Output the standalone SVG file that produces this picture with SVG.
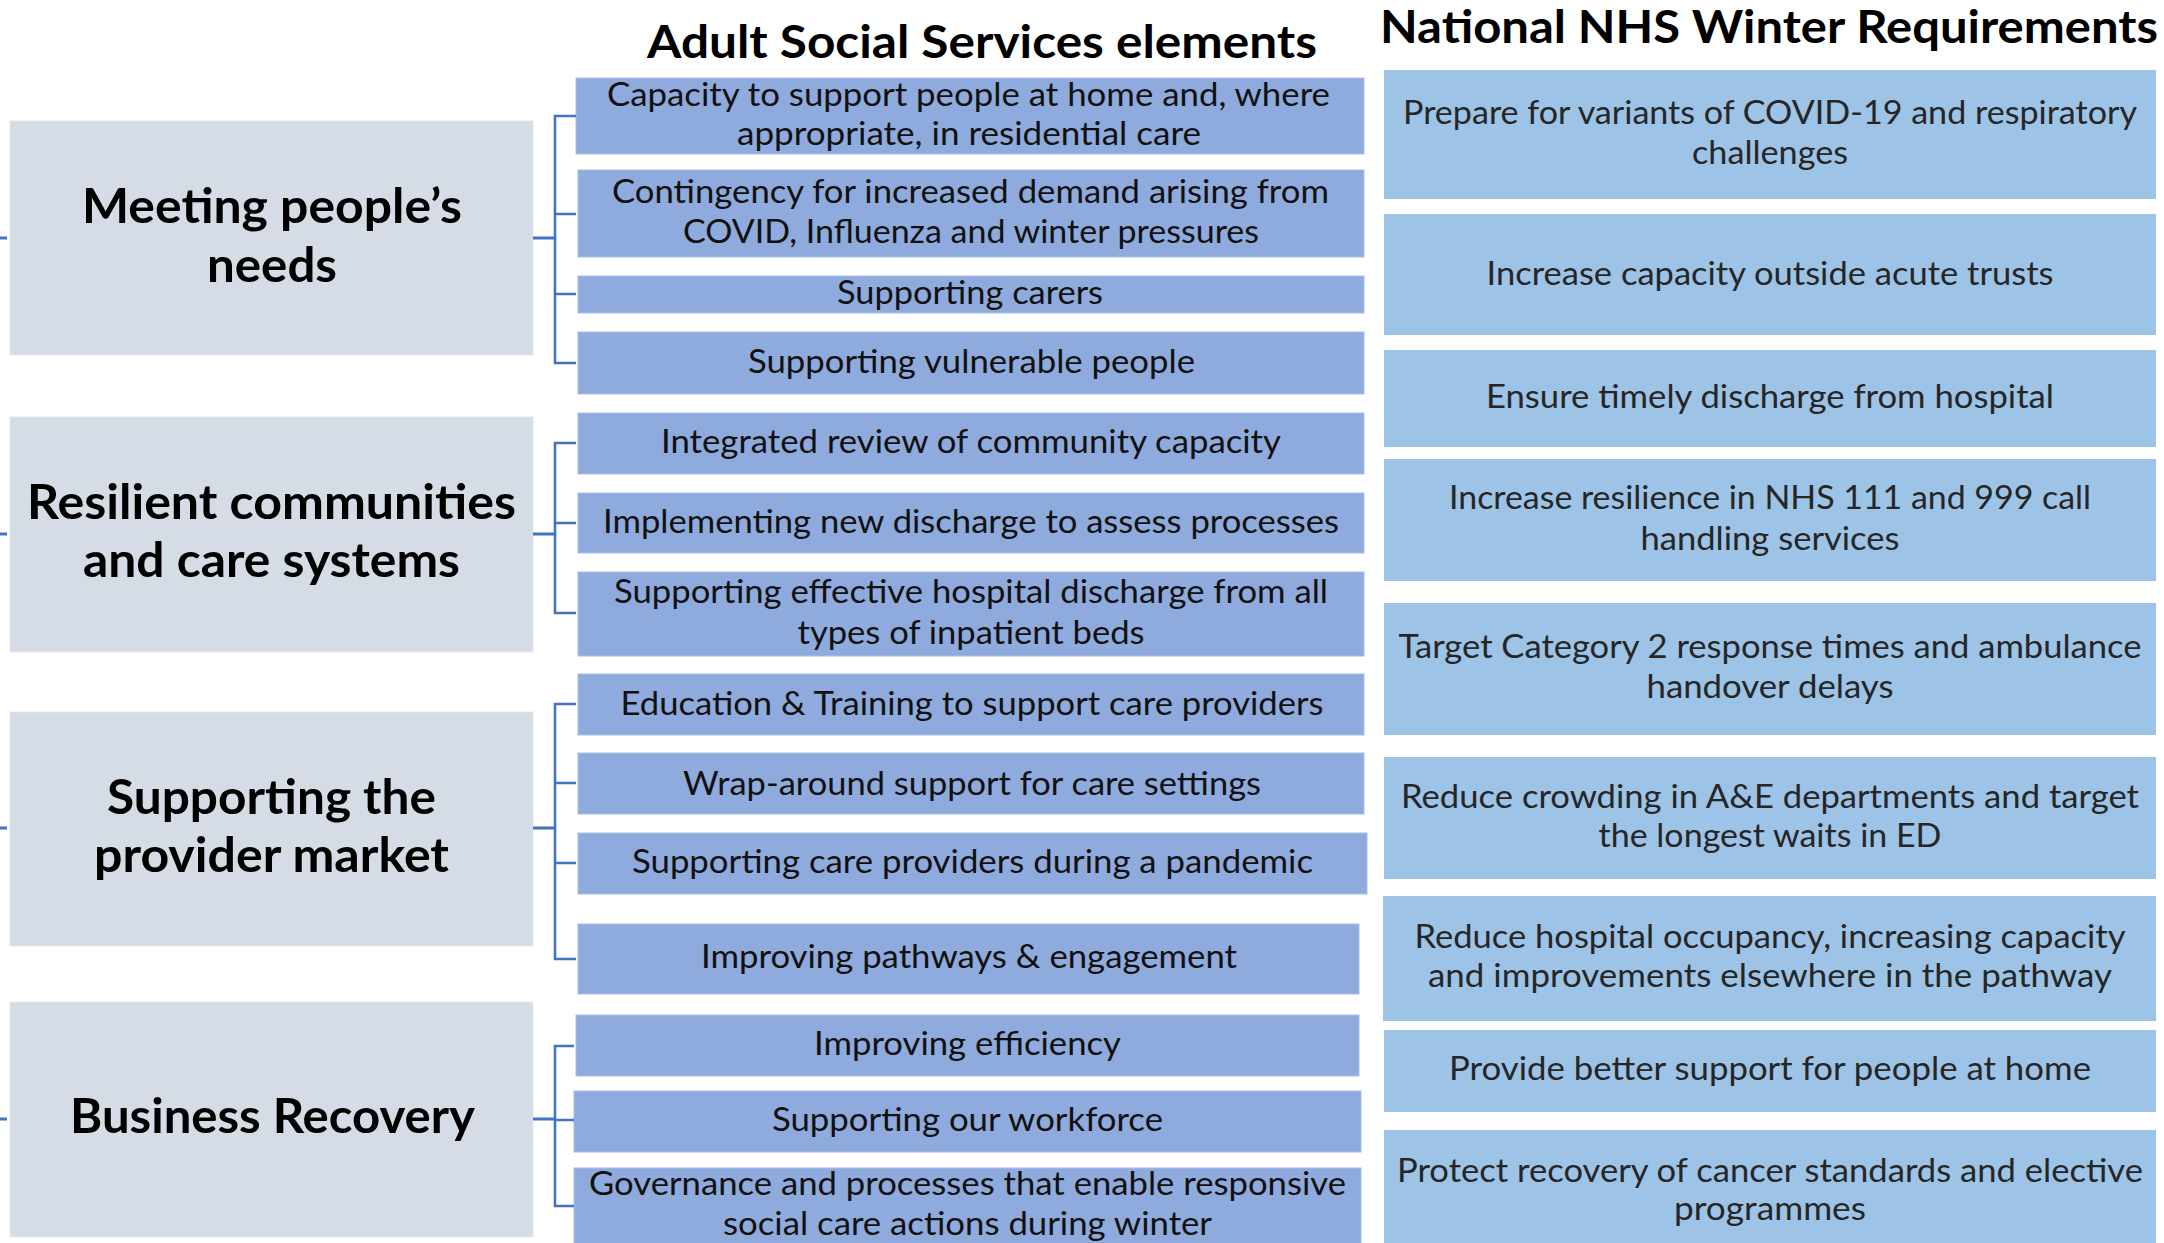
<svg xmlns="http://www.w3.org/2000/svg" width="2164" height="1243" viewBox="0 0 2164 1243">
  <style>
    .theme { fill: #D6DCE5; stroke: #E4E8EF; stroke-width: 1; }
    .elem { fill: #8FAADC; stroke: #A9BEE6; stroke-width: 1; }
    .req { fill: #9DC3E6; }
    .head { font-family: Lato, "Open Sans", sans-serif; font-weight: bold; font-size: 46px; fill: #000; }
    .theme-t { font-family: Lato, "Open Sans", sans-serif; font-weight: bold; font-size: 47px; fill: #000; text-anchor: middle; }
    .elem-t { font-family: Lato, "Open Sans", sans-serif; font-size: 32px; fill: #111; text-anchor: middle; }
    .req-t { font-family: Lato, "Open Sans", sans-serif; font-size: 32px; fill: #262626; text-anchor: middle; }
    .conn { stroke: #4472C4; stroke-width: 2.6; fill: none; }
    .stub { stroke: #4472C4; stroke-width: 3.2; fill: none; }
  </style>

  <!-- column headings -->
  <text class="head" x="982" y="58" text-anchor="middle" textLength="670" lengthAdjust="spacingAndGlyphs">Adult Social Services elements</text>
  <text class="head" x="1769" y="43" text-anchor="middle" textLength="778" lengthAdjust="spacingAndGlyphs">National NHS Winter Requirements</text>

  <!-- themes (left column) -->
  <g id="theme-meeting">
    <rect class="theme" x="10" y="121" width="523" height="234"/>
    <text class="theme-t" x="272" y="223" textLength="380" lengthAdjust="spacingAndGlyphs">Meeting people’s</text>
    <text class="theme-t" x="272" y="282" textLength="130" lengthAdjust="spacingAndGlyphs">needs</text>
  </g>
  <g id="theme-resilient">
    <rect class="theme" x="10" y="417" width="523" height="235"/>
    <text class="theme-t" x="271.5" y="519" textLength="489" lengthAdjust="spacingAndGlyphs">Resilient communities</text>
    <text class="theme-t" x="271.5" y="577" textLength="377" lengthAdjust="spacingAndGlyphs">and care systems</text>
  </g>
  <g id="theme-provider">
    <rect class="theme" x="10" y="712" width="523" height="234"/>
    <text class="theme-t" x="271.5" y="814" textLength="329" lengthAdjust="spacingAndGlyphs">Supporting the</text>
    <text class="theme-t" x="271.5" y="872" textLength="355" lengthAdjust="spacingAndGlyphs">provider market</text>
  </g>
  <g id="theme-business">
    <rect class="theme" x="10" y="1002" width="523" height="235"/>
    <text class="theme-t" x="272.5" y="1133" textLength="405" lengthAdjust="spacingAndGlyphs">Business Recovery</text>
  </g>

  <!-- adult social services elements (middle column) -->
  <g id="elem-capacity">
    <rect class="elem" x="576" y="78" width="788" height="76"/>
    <text class="elem-t" x="968.5" y="106" textLength="723" lengthAdjust="spacingAndGlyphs">Capacity to support people at home and, where</text>
    <text class="elem-t" x="969" y="145" textLength="464" lengthAdjust="spacingAndGlyphs">appropriate, in residential care</text>
  </g>
  <g id="elem-contingency">
    <rect class="elem" x="578" y="170" width="786" height="87"/>
    <text class="elem-t" x="970.5" y="203" textLength="717" lengthAdjust="spacingAndGlyphs">Contingency for increased demand arising from</text>
    <text class="elem-t" x="971" y="243" textLength="576" lengthAdjust="spacingAndGlyphs">COVID, Influenza and winter pressures</text>
  </g>
  <g id="elem-carers">
    <rect class="elem" x="578" y="276" width="786" height="37"/>
    <text class="elem-t" x="970" y="304" textLength="266" lengthAdjust="spacingAndGlyphs">Supporting carers</text>
  </g>
  <g id="elem-vulnerable">
    <rect class="elem" x="578" y="332" width="786" height="62"/>
    <text class="elem-t" x="971.5" y="373" textLength="447" lengthAdjust="spacingAndGlyphs">Supporting vulnerable people</text>
  </g>
  <g id="elem-integrated">
    <rect class="elem" x="578" y="413" width="786" height="61"/>
    <text class="elem-t" x="971" y="453" textLength="620" lengthAdjust="spacingAndGlyphs">Integrated review of community capacity</text>
  </g>
  <g id="elem-d2a">
    <rect class="elem" x="578" y="493" width="786" height="60"/>
    <text class="elem-t" x="971" y="533" textLength="736" lengthAdjust="spacingAndGlyphs">Implementing new discharge to assess processes</text>
  </g>
  <g id="elem-discharge">
    <rect class="elem" x="578" y="572" width="786" height="84"/>
    <text class="elem-t" x="971" y="603" textLength="714" lengthAdjust="spacingAndGlyphs">Supporting effective hospital discharge from all</text>
    <text class="elem-t" x="971" y="644" textLength="347" lengthAdjust="spacingAndGlyphs">types of inpatient beds</text>
  </g>
  <g id="elem-education">
    <rect class="elem" x="578" y="674" width="786" height="61"/>
    <text class="elem-t" x="972" y="715" textLength="703" lengthAdjust="spacingAndGlyphs">Education &amp; Training to support care providers</text>
  </g>
  <g id="elem-wraparound">
    <rect class="elem" x="578" y="753" width="786" height="61"/>
    <text class="elem-t" x="972" y="795" textLength="578" lengthAdjust="spacingAndGlyphs">Wrap-around support for care settings</text>
  </g>
  <g id="elem-pandemic">
    <rect class="elem" x="578" y="833" width="789" height="61"/>
    <text class="elem-t" x="972.5" y="873" textLength="681" lengthAdjust="spacingAndGlyphs">Supporting care providers during a pandemic</text>
  </g>
  <g id="elem-pathways">
    <rect class="elem" x="578" y="924" width="781" height="70"/>
    <text class="elem-t" x="969" y="968" textLength="536" lengthAdjust="spacingAndGlyphs">Improving pathways &amp; engagement</text>
  </g>
  <g id="elem-efficiency">
    <rect class="elem" x="576" y="1015" width="783" height="61"/>
    <text class="elem-t" x="967.5" y="1055" textLength="307" lengthAdjust="spacingAndGlyphs">Improving efficiency</text>
  </g>
  <g id="elem-workforce">
    <rect class="elem" x="574" y="1091" width="787" height="61"/>
    <text class="elem-t" x="967.5" y="1131" textLength="391" lengthAdjust="spacingAndGlyphs">Supporting our workforce</text>
  </g>
  <g id="elem-governance">
    <rect class="elem" x="574" y="1168" width="787" height="82"/>
    <text class="elem-t" x="967.5" y="1195" textLength="757" lengthAdjust="spacingAndGlyphs">Governance and processes that enable responsive</text>
    <text class="elem-t" x="967.5" y="1235" textLength="489" lengthAdjust="spacingAndGlyphs">social care actions during winter</text>
  </g>

  <!-- national NHS winter requirements (right column) -->
  <g id="req-variants">
    <rect class="req" x="1384" y="70" width="772" height="129"/>
    <text class="req-t" x="1770" y="124" textLength="734" lengthAdjust="spacingAndGlyphs">Prepare for variants of COVID-19 and respiratory</text>
    <text class="req-t" x="1770" y="164" textLength="156" lengthAdjust="spacingAndGlyphs">challenges</text>
  </g>
  <g id="req-capacity">
    <rect class="req" x="1384" y="214" width="772" height="121"/>
    <text class="req-t" x="1770" y="285" textLength="567" lengthAdjust="spacingAndGlyphs">Increase capacity outside acute trusts</text>
  </g>
  <g id="req-discharge">
    <rect class="req" x="1384" y="350" width="772" height="97"/>
    <text class="req-t" x="1770" y="408" textLength="568" lengthAdjust="spacingAndGlyphs">Ensure timely discharge from hospital</text>
  </g>
  <g id="req-111">
    <rect class="req" x="1384" y="459" width="772" height="122"/>
    <text class="req-t" x="1770" y="509" textLength="642" lengthAdjust="spacingAndGlyphs">Increase resilience in NHS 111 and 999 call</text>
    <text class="req-t" x="1770" y="550" textLength="259" lengthAdjust="spacingAndGlyphs">handling services</text>
  </g>
  <g id="req-cat2">
    <rect class="req" x="1384" y="603" width="772" height="132"/>
    <text class="req-t" x="1770" y="658" textLength="743" lengthAdjust="spacingAndGlyphs">Target Category 2 response times and ambulance</text>
    <text class="req-t" x="1770" y="698" textLength="247" lengthAdjust="spacingAndGlyphs">handover delays</text>
  </g>
  <g id="req-crowding">
    <rect class="req" x="1384" y="757" width="772" height="122"/>
    <text class="req-t" x="1770" y="808" textLength="738" lengthAdjust="spacingAndGlyphs">Reduce crowding in A&amp;E departments and target</text>
    <text class="req-t" x="1770" y="847" textLength="343" lengthAdjust="spacingAndGlyphs">the longest waits in ED</text>
  </g>
  <g id="req-occupancy">
    <rect class="req" x="1383" y="896" width="773" height="125"/>
    <text class="req-t" x="1770" y="948" textLength="711" lengthAdjust="spacingAndGlyphs">Reduce hospital occupancy, increasing capacity</text>
    <text class="req-t" x="1770" y="987" textLength="684" lengthAdjust="spacingAndGlyphs">and improvements elsewhere in the pathway</text>
  </g>
  <g id="req-home">
    <rect class="req" x="1384" y="1030" width="772" height="82"/>
    <text class="req-t" x="1770" y="1080" textLength="642" lengthAdjust="spacingAndGlyphs">Provide better support for people at home</text>
  </g>
  <g id="req-cancer">
    <rect class="req" x="1384" y="1130" width="772" height="120"/>
    <text class="req-t" x="1770" y="1182" textLength="746" lengthAdjust="spacingAndGlyphs">Protect recovery of cancer standards and elective</text>
    <text class="req-t" x="1770" y="1220" textLength="192" lengthAdjust="spacingAndGlyphs">programmes</text>
  </g>

  <!-- bracket connectors from each theme to its elements -->
  <g id="connectors">
    <!-- meeting people's needs -->
    <path class="stub" d="M0 238H7M533 238H556"/>
    <path class="conn" d="M576 116H555V363H576M555 214H576M555 294H576"/>
    <!-- resilient communities -->
    <path class="stub" d="M0 534H7M533 534H556"/>
    <path class="conn" d="M576 443H555V613H576M555 523H576"/>
    <!-- provider market -->
    <path class="stub" d="M0 828H7M533 828H556"/>
    <path class="conn" d="M576 704H555V959H576M555 783H576M555 863H576"/>
    <!-- business recovery -->
    <path class="stub" d="M0 1119H7M533 1119H556"/>
    <path class="conn" d="M574 1046H555V1206H574M555 1120H574"/>
  </g>
</svg>
